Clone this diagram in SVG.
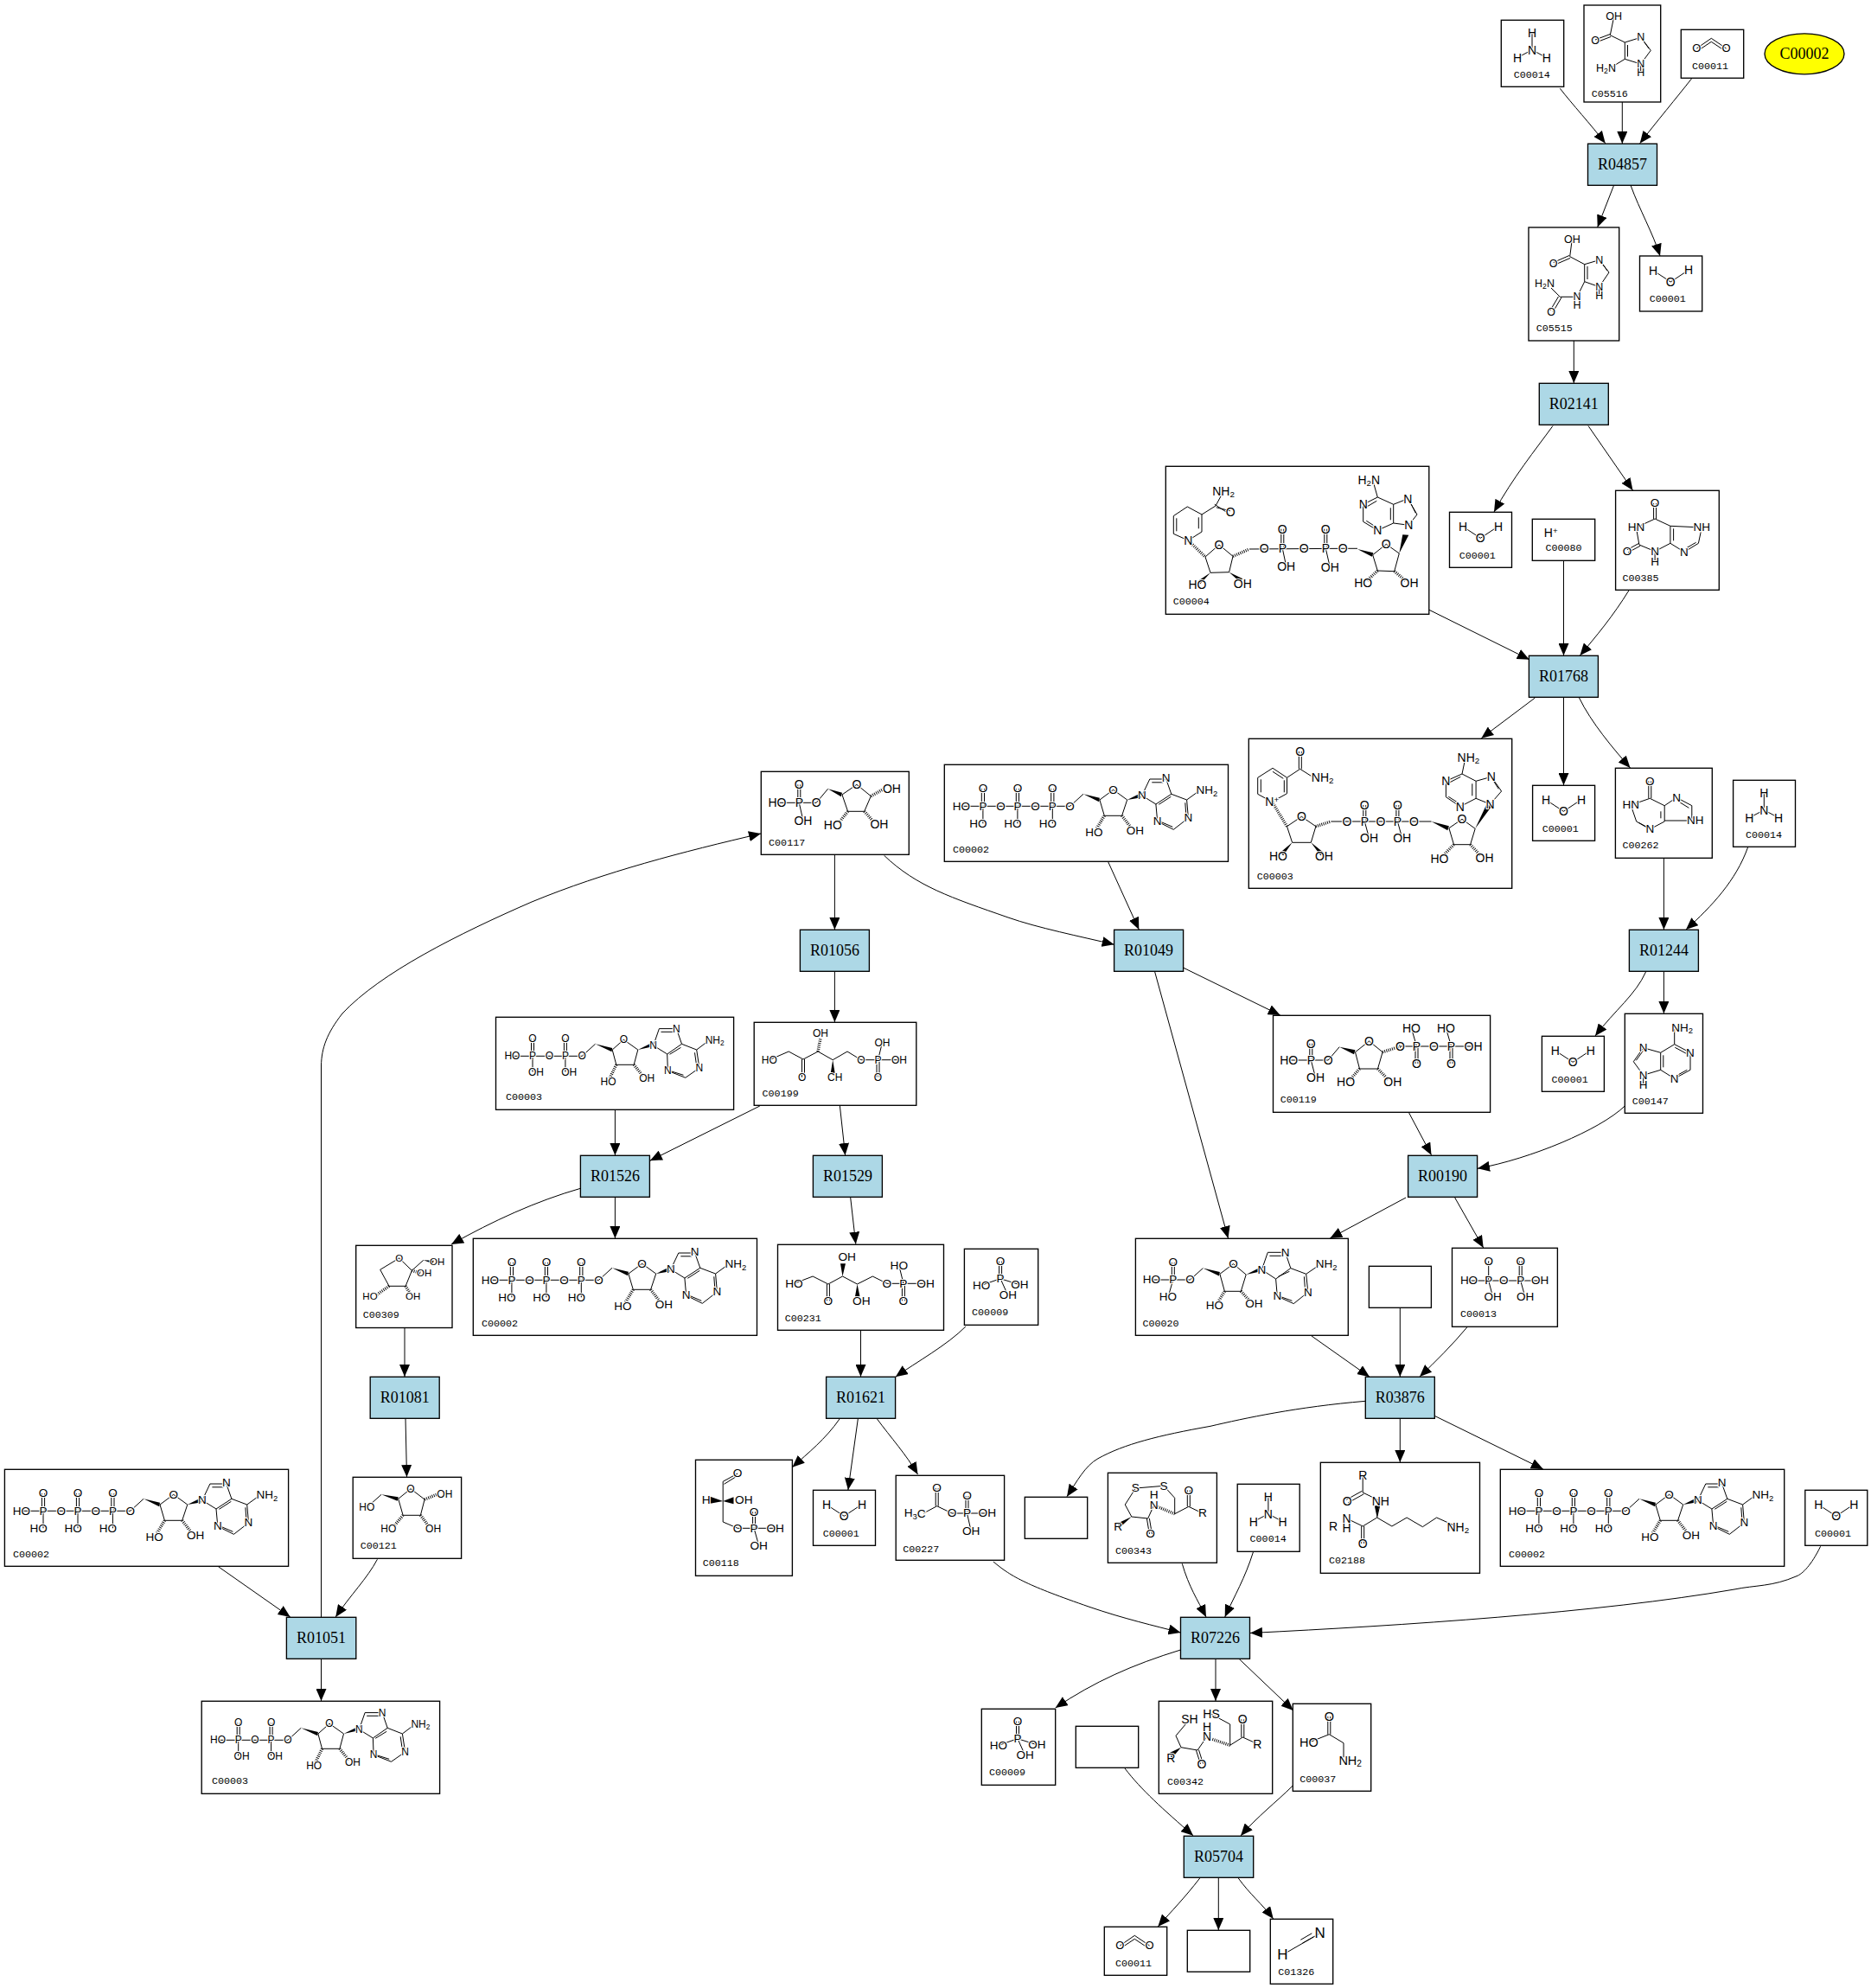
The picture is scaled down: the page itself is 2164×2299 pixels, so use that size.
<svg xmlns="http://www.w3.org/2000/svg" xmlns:xlink="http://www.w3.org/1999/xlink" width="2164" height="2299" viewBox="0 0 2164 2299">
<style>
.bg{fill:#fff}
.e{fill:none;stroke:#000;stroke-width:1;marker-end:url(#ah)}
.n{fill:#fff;stroke:#000;stroke-width:1.35}
.r{fill:#add8e6;stroke:#000;stroke-width:1.35}
.y{fill:#ff0;stroke:#000;stroke-width:1.35}
.t{font-family:"Liberation Serif","Times New Roman",serif;font-size:18px;text-anchor:middle;fill:#000}
.l{font-family:"Liberation Mono","DejaVu Sans Mono",monospace;font-size:11.7px;fill:#000}
.b{fill:none;stroke:#000;stroke-width:1}
.h{fill:none;stroke:#000;stroke-width:3.5;stroke-dasharray:.9 1.4}
.w{fill:#000;stroke:none}
.m text{font-family:"Liberation Sans",Arial,sans-serif;text-anchor:middle;dominant-baseline:central;paint-order:stroke;stroke:#fff;stroke-width:2.2px;fill:#000}
.s{font-size:70%}
</style>
<defs>
<marker id="ah" markerUnits="userSpaceOnUse" markerWidth="14" markerHeight="12" refX="14" refY="6" orient="auto"><path d="M0 0L14 6L0 12Z"/></marker>
<g id="water"><path class="b" d="M15.5 16.7L35.8 30L56.5 16.3"/></g>
<g id="ammonia"><path class="b" d="M35.7 15V34.4L18.7 43.4M35.7 34.4L52.4 43.4"/></g>
<g id="co2"><path class="b" d="M18 21.7L35 10L52.3 21.7M20 24L35 14L50 24"/></g>
<g id="pi"><path class="b" d="M40.2 14.4V34.4M43.2 14.4V34.4M19.7 42L41.7 34.4L64 41.4M41.7 34.4L50.4 53.7"/></g>
<g id="atp"><path class="b" d="M19.6 48H145.3M43 27.7V48M46.2 27.7V48M83 27.7V48M86.2 27.7V48M123.4 27.7V48M126.6 27.7V48M44.6 48V68M84.6 48V68M125 48V68M145.3 48L160.7 34M179.6 40.7L195.3 29L211.4 40.7L205.3 59H185ZM228.5 35.7L237.5 16.7H256.4L262.5 34L244.6 45.7ZM240 20.5H253M244.6 45.7L246.4 65.7L265 75L282.1 61.7L280.3 40.7L262.5 34M280.3 40.7L295 30M250 66L264 72M278.5 44L279.5 58M248 46L262 37"/><path class="w" d="M160.7 34L179.6 38.5L178.8 43ZM211.4 40.7L226 33.5L228 38Z"/><path class="h" d="M185 59L176 74M205.3 59L216 73"/></g>
<g id="adp"><path class="b" d="M18.9 45H99.7M41 25V45M44 25V45M78.9 25V45M81.9 25V45M42.5 45V63.3M80.4 45V63.3M99.7 45L115 31M134.7 37.7L147.8 26L164.3 37.7L159.7 55H139.3ZM182.2 32.7L188.9 13.3H208.9L215 31L198.2 42.7ZM191 17H206M198.2 42.7L198.9 62L219.3 70L235.4 58.7L232.2 37.7L215 31M232.2 37.7L245 28M201 62L217 67M230 41L232 55M201 43L214 35"/><path class="w" d="M115 31L134.7 35.6L134 40ZM164.3 37.7L180 30L181.5 34Z"/><path class="h" d="M139.3 55L132 70M159.7 55L170 68"/></g>
</defs>
<rect class="bg" width="2164" height="2299"/>
<g id="connectors">
<path class="e" d="M1804.3 102.3C1818 120 1840 144 1856.7 165.7"/>
<path class="e" d="M1876.3 118V166"/>
<path class="e" d="M1956.7 90.7C1940 112 1915 142 1896.7 165.7"/>
<path class="e" d="M1866.3 215L1847.7 262.7"/>
<path class="e" d="M1886.3 215C1896 242 1912 270 1920 296"/>
<path class="e" d="M1820.3 394V443"/>
<path class="e" d="M1796 492.5C1776 520 1750 552 1728 592"/>
<path class="e" d="M1837 492.5L1888.5 567"/>
<path class="e" d="M1653 705.3L1768.8 762.7"/>
<path class="e" d="M1808.5 648.3V758"/>
<path class="e" d="M1884 682.7C1866 712 1846 736 1827.4 758"/>
<path class="e" d="M1775.4 807L1713.3 853.7"/>
<path class="e" d="M1808.5 806.3V908"/>
<path class="e" d="M1826.5 807C1840 835 1866 866 1885.5 888"/>
<path class="e" d="M1924.4 992.3V1075"/>
<path class="e" d="M2021.5 980C2008 1018 1980 1048 1950 1075"/>
<path class="e" d="M1903.5 1124C1892 1150 1868 1168 1845 1198"/>
<path class="e" d="M1924.4 1123.3V1172"/>
<path class="e" d="M1879.3 1279C1850 1307 1770 1340 1709 1351.3"/>
<path class="e" d="M1682.7 1385L1715.7 1443"/>
<path class="e" d="M1629.5 1286.7L1655.5 1335.7"/>
<path class="e" d="M1369 1119.3L1480.7 1174"/>
<path class="e" d="M1335.7 1124L1420.5 1432"/>
<path class="e" d="M1281.7 996.7L1317.3 1075"/>
<path class="e" d="M1022.6 989.3C1060 1025 1100 1038 1166 1061C1200 1073 1250 1083 1288.6 1092.3"/>
<path class="e" d="M965.4 988.3V1075"/>
<path class="e" d="M965.4 1123.3V1182"/>
<path class="e" d="M878.8 1279L751.8 1342.3"/>
<path class="e" d="M971.4 1279L977.6 1336"/>
<path class="e" d="M711.4 1283.3V1336"/>
<path class="e" d="M671.4 1374.3C620 1389 570 1412 522 1439"/>
<path class="e" d="M711.4 1384.3V1432"/>
<path class="e" d="M983.7 1385L989.8 1438.7"/>
<path class="e" d="M995.5 1538.3V1592"/>
<path class="e" d="M1116.9 1534C1095 1556 1060 1575 1035.8 1592.3"/>
<path class="e" d="M971 1641C955 1664 935 1680 916.4 1696.7"/>
<path class="e" d="M992.3 1641L980.9 1723"/>
<path class="e" d="M1014.5 1641C1030 1662 1048 1682 1061.5 1705"/>
<path class="e" d="M1149 1806C1170 1824 1190 1834 1260 1858.3C1300 1872 1335 1880 1365.5 1888"/>
<path class="e" d="M1367.3 1808.3C1375 1835 1385 1850 1395 1870"/>
<path class="e" d="M1449.4 1795C1440 1825 1428 1845 1416.7 1870"/>
<path class="e" d="M2105.6 1788.3C2095 1810 2085 1820 2078 1822.7C2050 1835 2030 1833 2006 1838C1850 1865 1620 1880 1446 1888.5"/>
<path class="e" d="M1579.3 1620.3C1500 1627 1440 1640 1400 1649.3C1340 1660 1300 1670 1270 1686.7C1255 1695 1245 1714 1234 1730.7"/>
<path class="e" d="M1619.3 1640.3V1691"/>
<path class="e" d="M1659.2 1637.3L1784.8 1699"/>
<path class="e" d="M1517 1545L1584 1592.3"/>
<path class="e" d="M1619.3 1512.3V1592"/>
<path class="e" d="M1696.7 1535C1680 1555 1660 1575 1642 1592"/>
<path class="e" d="M1626 1385L1538.3 1432"/>
<path class="e" d="M436.4 1803.3C425 1825 405 1845 388.2 1870"/>
<path class="e" d="M252.5 1811.7L335.7 1870"/>
<path class="e" d="M371.5 1870V1232C372 1212 378 1195 396 1172C440 1125 530 1080 615 1043C700 1008 790 985 880 964"/>
<path class="e" d="M469 1640.3L470.5 1708"/>
<path class="e" d="M468 1535.5V1592"/>
<path class="e" d="M371.5 1918.3V1967"/>
<path class="e" d="M1365.5 1908C1310 1925 1265 1945 1220.7 1975"/>
<path class="e" d="M1406 1918.3V1967"/>
<path class="e" d="M1433 1918.3L1495.7 1978"/>
<path class="e" d="M1301 2045C1320 2070 1345 2092 1380 2122.7"/>
<path class="e" d="M1495.3 2065C1475 2085 1455 2100 1435 2123"/>
<path class="e" d="M1387.7 2172C1370 2195 1355 2210 1339.3 2228"/>
<path class="e" d="M1409.3 2171.3V2232"/>
<path class="e" d="M1432.3 2172C1445 2190 1460 2202 1472.7 2219"/>
</g>

<g id="R04857"><rect class="r" x="1836.5" y="166.3" width="80" height="48"/><text class="t" x="1876.5" y="195.8">R04857</text></g>
<g id="R02141"><rect class="r" x="1780.3" y="443.3" width="80" height="48"/><text class="t" x="1820.3" y="472.8">R02141</text></g>
<g id="R01768"><rect class="r" x="1768.4" y="758.3" width="80" height="48"/><text class="t" x="1808.4" y="787.8">R01768</text></g>
<g id="R01244"><rect class="r" x="1884.4" y="1075.3" width="80" height="48"/><text class="t" x="1924.4" y="1104.8">R01244</text></g>
<g id="R01056"><rect class="r" x="925.4" y="1075.3" width="80" height="48"/><text class="t" x="965.4" y="1104.8">R01056</text></g>
<g id="R01049"><rect class="r" x="1288.6" y="1075.3" width="80" height="48"/><text class="t" x="1328.6" y="1104.8">R01049</text></g>
<g id="R00190"><rect class="r" x="1628.6" y="1336.3" width="80" height="48"/><text class="t" x="1668.6" y="1365.8">R00190</text></g>
<g id="R01526"><rect class="r" x="671.4" y="1336.3" width="80" height="48"/><text class="t" x="711.4" y="1365.8">R01526</text></g>
<g id="R01529"><rect class="r" x="940.4" y="1336.3" width="80" height="48"/><text class="t" x="980.4" y="1365.8">R01529</text></g>
<g id="R01621"><rect class="r" x="955.6" y="1592.3" width="80" height="48"/><text class="t" x="995.6" y="1621.8">R01621</text></g>
<g id="R01081"><rect class="r" x="428.2" y="1592.3" width="80" height="48"/><text class="t" x="468.2" y="1621.8">R01081</text></g>
<g id="R03876"><rect class="r" x="1579.3" y="1592.3" width="80" height="48"/><text class="t" x="1619.3" y="1621.8">R03876</text></g>
<g id="R01051"><rect class="r" x="331.4" y="1870.3" width="80.4" height="48"/><text class="t" x="371.6" y="1899.8">R01051</text></g>
<g id="R07226"><rect class="r" x="1365.5" y="1870.3" width="80" height="48"/><text class="t" x="1405.5" y="1899.8">R07226</text></g>
<g id="R05704"><rect class="r" x="1369.3" y="2123.3" width="80.4" height="48"/><text class="t" x="1409.5" y="2152.8">R05704</text></g>

<g id="C00002-free"><ellipse class="y" cx="2087" cy="62.3" rx="46" ry="23.5"/><text class="t" x="2087" y="68.3">C00002</text></g>

<g id="C00014-a" transform="translate(1736.3,23.3)"><rect class="n" width="72.4" height="77"/><use href="#ammonia"/><g class="m" font-size="14"><text x="35.7" y="15">H</text><text x="35.7" y="34.4">N</text><text x="18.7" y="43.4">H</text><text x="52.4" y="43.4">H</text></g><text class="l" x="14.4" y="66.7">C00014</text></g>

<g id="C05516" transform="translate(1832,6)"><rect class="n" width="88.7" height="112"/><path class="b" d="M34.7 13.3L30.3 34.7L47.3 43L65.7 37.3L77.3 52.3L65.7 68L47.3 62.3V43M50.5 46V59.5M68 40L75 50M30.3 33.5L13 40M31 36.5L14 43M47.3 62.3L33 71M65.7 68V78.3"/><g class="m" font-size="12.5"><text x="34.7" y="13.3">OH</text><text x="13" y="41.3">O</text><text x="65.7" y="37.3">N</text><text x="65.7" y="68">N</text><text x="65.7" y="78.3">H</text><text x="25.5" y="73.3">H<tspan class="s" dy="3">2</tspan><tspan dy="-3">N</tspan></text></g><text class="l" x="8.7" y="106">C05516</text></g>

<g id="C00011-a" transform="translate(1944.3,34.3)"><rect class="n" width="72.4" height="56"/><use href="#co2"/><g class="m" font-size="13"><text x="18" y="21.7">O</text><text x="52.3" y="21.7">O</text></g><text class="l" x="12.7" y="45.7">C00011</text></g>

<g id="C05515" transform="translate(1768,263)"><rect class="n" width="104.7" height="131"/><path class="b" d="M50.3 13.7L47.7 33.7L64.7 42.7L81.7 37.7L93 52L81.7 68.7L64.7 62.7V42.7M68 45V60M84 40L91 50M47 32.5L28.7 40.5M48 35.5L29.5 43.5M81.7 68.7V78.7M64.7 62.7L56 80.3H36.3L26 70M34.5 80L25 96M38 81L28 98"/><g class="m" font-size="12.5"><text x="50.3" y="13.7">OH</text><text x="28.7" y="42">O</text><text x="81.7" y="37.7">N</text><text x="81.7" y="68.7">N</text><text x="81.7" y="78.7">H</text><text x="18.5" y="65.3">H<tspan class="s" dy="3">2</tspan><tspan dy="-3">N</tspan></text><text x="26" y="97.7">O</text><text x="56" y="80.3">N</text><text x="56" y="90">H</text></g><text class="l" x="8.7" y="119.7">C05515</text></g>

<g id="C00001-a" transform="translate(1896.5,296)"><rect class="n" width="72.2" height="64"/><use href="#water"/><g class="m" font-size="14"><text x="15.5" y="16.7">H</text><text x="35.8" y="30">O</text><text x="56.5" y="16.3">H</text></g><text class="l" x="11.2" y="53.3">C00001</text></g>

<g id="C00004" transform="translate(1348.3,539.3)"><rect class="n" width="304.5" height="171"/><path class="b" d="M66.7 29L57.7 45.7L41.7 55.7L25 46.7L9 57.3V78L26 85.7L41.7 75.7V55.7M38 59V72M12.5 60V75M56.5 44L73.5 55M58.5 47.5L74.5 51.5M45.7 104.7L61.7 90.7L77.7 104L73.3 122.4L51.7 123ZM96.7 95.7L205 95M133.5 72.4V95M136.5 72.4V95M183.5 72.4V95M186.5 72.4V95M135 95L139.4 115.7M185 95L190 116.7M239.4 102.4L255 90L270 100.7L264.4 121.4L245 120.7ZM205 95H221.7M281 68L263.4 65.7V44L280 37.4L290.7 55.7ZM263.4 65.7L245 74L228.4 64V44L245 35.7L263.4 44M245 35.7L240 18M260 48V62M232 47L244 40M232 63L243 70M283 42L289 54"/><path class="w" d="M221.7 95.7L240 100L238.5 104.5ZM270 100.7L274 79L281 79.5ZM51.7 123L36.7 133L40 136ZM73.3 122.4L85 133L89 130Z"/><path class="h" d="M26 85.7L45.7 104.7M77.7 104L96.7 95.7M245 120.7L233 132M264.4 121.4L277 132"/><g class="m" font-size="14"><text x="66.7" y="29">NH<tspan class="s" dy="3">2</tspan></text><text x="75" y="53">O</text><text x="26" y="85.7">N</text><text x="61.7" y="90.7">O</text><text x="36.7" y="136.7">HO</text><text x="89" y="135.7">OH</text><text x="114" y="95">O</text><text x="135" y="95">P</text><text x="135" y="72.4">O</text><text x="139.4" y="115.7">OH</text><text x="160" y="95">O</text><text x="185" y="95">P</text><text x="185" y="72.4">O</text><text x="190" y="116.7">OH</text><text x="205" y="95">O</text><text x="255" y="90">O</text><text x="228.4" y="135">HO</text><text x="281.7" y="135">OH</text><text x="281" y="68">N</text><text x="280" y="37.4">N</text><text x="245" y="74">N</text><text x="228.4" y="44">N</text><text x="235" y="15.7">H<tspan class="s" dy="3">2</tspan><tspan dy="-3">N</tspan></text></g><text class="l" x="8.4" y="159.7">C00004</text></g>

<g id="C00001-b" transform="translate(1676.5,592.3)"><rect class="n" width="72" height="64"/><use href="#water"/><g class="m" font-size="14"><text x="15.5" y="16.7">H</text><text x="35.8" y="30">O</text><text x="56.5" y="16.3">H</text></g><text class="l" x="11.2" y="53.3">C00001</text></g>

<g id="C00080" transform="translate(1772.3,600.3)"><rect class="n" width="72.4" height="48"/><g class="m" font-size="14"><text x="21.5" y="15.7">H<tspan class="s" dy="-3">+</tspan></text></g><text class="l" x="15.2" y="37">C00080</text></g>

<g id="C00385" transform="translate(1868.6,567.3)"><rect class="n" width="119.7" height="115"/><path class="b" d="M44 14.7V32.7M47 14.7V32.7M45.5 32.7L23.8 42.7L27.3 62.7L45.5 70.3L63.3 61V41L45.5 32.7M63.3 41L99.7 42.7L95.8 61L79.4 71L63.3 61M67 44V58M45.5 70.3V82M27 61L13.4 68.5M28.5 64L14.5 71.5M93 60L81 67"/><g class="m" font-size="13.5"><text x="45.5" y="14.7">O</text><text x="23.8" y="42.7">HN</text><text x="13.4" y="70.3">O</text><text x="45.5" y="70.3">N</text><text x="45.5" y="82">H</text><text x="99.7" y="42.7">NH</text><text x="79.4" y="71">N</text></g><text class="l" x="7.8" y="104.4">C00385</text></g>

<g id="C00003-nad" transform="translate(1444.3,854.3)"><rect class="n" width="304.4" height="173"/><path class="b" d="M58 14.7V35M61 14.7V35M59.4 35L72 43M59.4 35L44.2 45M27.7 34L44.2 45V63.4L26.9 73L10.4 64V45ZM27.7 38L40 46M14 47V62M41 48V62M44.2 101.4L61.1 90L77.6 101.4L72 120H50.3ZM95 95.7H211.2M132.5 76.7V95.7M135.5 76.7V95.7M170.6 76.7V95.7M173.6 76.7V95.7M134 95.7L139.2 114.7M172.1 95.7L177.4 114.7M231.6 103.4L246.7 93L261.9 104L256.3 122.4H237.2ZM279.3 75.7L262.8 69V49L280.6 44L292.3 60.7ZM262.8 69L244.6 78.4L228.1 67.4V49L246.7 40.7L262.8 49M246.7 40.7L250 25M258.5 52V66M231.5 51L245 44M231 67L242 74M282 47L289 58"/><path class="w" d="M211.2 95.7L231.6 101L230 106ZM261.9 104L276 74L281 78ZM50.3 120L36 132L40 135ZM72 120L83 135L87 132Z"/><path class="h" d="M26.9 73L44.2 101.4M77.6 101.4L95 95.7M237.2 122.4L225 135M256.3 122.4L268 135"/><g class="m" font-size="14"><text x="59.4" y="14.7">O</text><text x="85.4" y="44.7">NH<tspan class="s" dy="3">2</tspan></text><text x="26.9" y="73">N<tspan class="s" dy="-3">+</tspan></text><text x="61.1" y="90">O</text><text x="34.2" y="135.7">HO</text><text x="87.1" y="135.7">OH</text><text x="113.6" y="95.7">O</text><text x="134" y="95.7">P</text><text x="134" y="76.7">O</text><text x="139.2" y="114.7">OH</text><text x="152.6" y="95.7">O</text><text x="172.1" y="95.7">P</text><text x="172.1" y="76.7">O</text><text x="177.4" y="114.7">OH</text><text x="191.2" y="95.7">O</text><text x="246.7" y="93">O</text><text x="220.7" y="139">HO</text><text x="272.8" y="137.7">OH</text><text x="279.3" y="75.7">N</text><text x="280.6" y="44">N</text><text x="244.6" y="78.4">N</text><text x="228.1" y="49">N</text><text x="254.1" y="21.4">NH<tspan class="s" dy="3">2</tspan></text></g><text class="l" x="9.5" y="162.4">C00003</text></g>

<g id="C00001-c" transform="translate(1772.6,908.3)"><rect class="n" width="72" height="64"/><use href="#water"/><g class="m" font-size="14"><text x="15.5" y="16.7">H</text><text x="35.8" y="30">O</text><text x="56.5" y="16.3">H</text></g><text class="l" x="11.2" y="53.3">C00001</text></g>

<g id="C00262" transform="translate(1868.4,888.3)"><rect class="n" width="111.9" height="104"/><path class="b" d="M38.4 15V35M41.4 15V35M39.9 35L17.8 42.7L24.3 61.7L39.9 70.7L56.8 61.7V43.4L39.9 35M56.8 43.4L70.7 34L88.4 43.4V60.7H56.8M52.5 50V58M72 38L85 46M27 63L38 69"/><g class="m" font-size="13.5"><text x="39.9" y="15">O</text><text x="17.8" y="42.7">HN</text><text x="70.7" y="34">N</text><text x="92.3" y="60.7">NH</text><text x="39.9" y="70.7">N</text></g><text class="l" x="8" y="93">C00262</text></g>

<g id="C00014-b" transform="translate(2004.6,902.3)"><rect class="n" width="71.9" height="77"/><use href="#ammonia"/><g class="m" font-size="14"><text x="35.7" y="15">H</text><text x="35.7" y="34.4">N</text><text x="18.7" y="43.4">H</text><text x="52.4" y="43.4">H</text></g><text class="l" x="14.4" y="66.7">C00014</text></g>

<g id="C00001-d" transform="translate(1783.4,1198.3)"><rect class="n" width="72" height="64"/><use href="#water"/><g class="m" font-size="14"><text x="15.5" y="16.7">H</text><text x="35.8" y="30">O</text><text x="56.5" y="16.3">H</text></g><text class="l" x="11.2" y="53.3">C00001</text></g>

<g id="C00147" transform="translate(1879.3,1172.3)"><rect class="n" width="90.2" height="115"/><path class="b" d="M57.4 16V35.4L75.7 45V65L57.4 75L41.4 65V45L57.4 35.4M41.4 45L21.4 39.4L10 55.4L21.4 71L41.4 65M44.5 48V62M58 39L71 46M59 72L72 65M21 43L13 54M21.4 71V82.7"/><g class="m" font-size="13.5"><text x="66.4" y="16">NH<tspan class="s" dy="3">2</tspan></text><text x="75.7" y="45">N</text><text x="57.4" y="75">N</text><text x="21.4" y="39.4">N</text><text x="21.4" y="71">N</text><text x="21.4" y="82.7">H</text></g><text class="l" x="8.4" y="104.4">C00147</text></g>

<g id="C00119" transform="translate(1472.5,1174.3)"><rect class="n" width="251.1" height="112"/><path class="b" d="M42.3 32.4V51.7M45.3 32.4V51.7M18.2 51.7H63.7L76.7 36.4M43.8 51.7L49 71.7M95 42.4L111 29.7L126.6 42.4L121 61.7H100ZM147 35.7H231.5M164.5 35.7V55.7M167.5 35.7V55.7M204.5 35.7V55.7M207.5 35.7V55.7M166 35.7L160 15M206 35.7L200 15"/><path class="w" d="M76.7 36.4L95 40L93.5 45Z"/><path class="h" d="M126.6 42.4L147 35.7M100 61.7L89 74M121 61.7L133 74"/><g class="m" font-size="14"><text x="43.8" y="32.4">O</text><text x="43.8" y="51.7">P</text><text x="18.2" y="51.7">HO</text><text x="49" y="71.7">OH</text><text x="63.7" y="51.7">O</text><text x="111" y="29.7">O</text><text x="84.1" y="77">HO</text><text x="138.3" y="77">OH</text><text x="147" y="35.7">O</text><text x="166" y="35.7">P</text><text x="160" y="15">HO</text><text x="166" y="55.7">O</text><text x="186" y="35.7">O</text><text x="206" y="35.7">P</text><text x="200" y="15">HO</text><text x="206" y="55.7">O</text><text x="231.5" y="35.7">OH</text></g><text class="l" x="8.2" y="100.4">C00119</text></g>

<g id="C00117" transform="translate(880.3,892.3)"><rect class="n" width="171" height="96"/><path class="b" d="M42.5 15V36M45.5 15V36M18.7 36H63.9L77.3 20M44 36L48.6 56.7M93.7 26.7L110.6 15L127 28.4L119.4 46H100.3Z"/><path class="w" d="M77.3 20L93.7 24.5L92.5 29Z"/><path class="h" d="M100.3 46L90 59M119.4 46L130 58M127 28.4L142 20"/><g class="m" font-size="14"><text x="44" y="15">O</text><text x="44" y="36">P</text><text x="18.7" y="36">HO</text><text x="48.6" y="56.7">OH</text><text x="63.9" y="36">O</text><text x="110.6" y="15">O</text><text x="83" y="62">HO</text><text x="136.6" y="61">OH</text><text x="151.1" y="19.4">OH</text></g><text class="l" x="8.8" y="85.4">C00117</text></g>

<g id="C00002-a" transform="translate(1092.3,884.3)"><rect class="n" width="328.2" height="112"/><use href="#atp"/><g class="m" font-size="13.5"><text x="19.6" y="48">HO</text><text x="44.6" y="48">P</text><text x="44.6" y="27.7">O</text><text x="39.2" y="68">HO</text><text x="65.3" y="48">O</text><text x="84.6" y="48">P</text><text x="84.6" y="27.7">O</text><text x="79.2" y="68">HO</text><text x="105.3" y="48">O</text><text x="125" y="48">P</text><text x="125" y="27.7">O</text><text x="119.6" y="68">HO</text><text x="145.3" y="48">O</text><text x="195.3" y="29">O</text><text x="173.2" y="78">HO</text><text x="220.7" y="76.3">OH</text><text x="228.5" y="35.7">N</text><text x="256.4" y="15.7">N</text><text x="246.4" y="65.7">N</text><text x="282.1" y="61.7">N</text><text x="303.5" y="29.7">NH<tspan class="s" dy="3">2</tspan></text></g><text class="l" x="9.6" y="101.4">C00002</text></g>

<g id="C00199" transform="translate(872.2,1182.3)"><rect class="n" width="187.6" height="96"/><path class="b" d="M17.6 43.4L40 33.7L56.8 42.7L73.9 33.7L91 43.4L107.8 33.7L123.7 43.4H167.8M55.3 42.7V63.4M58.3 42.7V63.4M143.3 43.4L148.2 23.4M141.8 43.4V63.4M144.8 43.4V63.4"/><path class="w" d="M91 43.4L88.5 59H93.5Z"/><path class="h" d="M73.9 33.7L76.8 18"/><g class="m" font-size="12"><text x="17.6" y="43.4">HO</text><text x="55.5" y="63.4">O</text><text x="76.8" y="13">OH</text><text x="93.5" y="63.4">CH</text><text x="123.7" y="43.4">O</text><text x="143.3" y="43.4">P</text><text x="148.2" y="23.4">OH</text><text x="167.8" y="43.4">OH</text><text x="143.3" y="63.4">O</text></g><text class="l" x="9.4" y="85.4">C00199</text></g>

<g id="C00003-adp-a" transform="translate(573.5,1176.3)"><rect class="n" width="275.1" height="107"/><use href="#adp"/><g class="m" font-size="12"><text x="18.9" y="45">HO</text><text x="42.5" y="45">P</text><text x="42.5" y="25">O</text><text x="46.4" y="63.3">OH</text><text x="61.8" y="45">O</text><text x="80.4" y="45">P</text><text x="80.4" y="25">O</text><text x="84.7" y="63.3">OH</text><text x="99.7" y="45">O</text><text x="147.8" y="26">O</text><text x="130" y="74.3">HO</text><text x="174.7" y="71">OH</text><text x="182.2" y="32.7">N</text><text x="208.9" y="13.3">N</text><text x="198.9" y="62">N</text><text x="235.4" y="58.7">N</text><text x="253.2" y="26.7">NH<tspan class="s" dy="3">2</tspan></text></g><text class="l" x="11.5" y="96">C00003</text></g>

<g id="C00002-b" transform="translate(547.3,1432.3)"><rect class="n" width="328.2" height="112"/><use href="#atp"/><g class="m" font-size="13.5"><text x="19.6" y="48">HO</text><text x="44.6" y="48">P</text><text x="44.6" y="27.7">O</text><text x="39.2" y="68">HO</text><text x="65.3" y="48">O</text><text x="84.6" y="48">P</text><text x="84.6" y="27.7">O</text><text x="79.2" y="68">HO</text><text x="105.3" y="48">O</text><text x="125" y="48">P</text><text x="125" y="27.7">O</text><text x="119.6" y="68">HO</text><text x="145.3" y="48">O</text><text x="195.3" y="29">O</text><text x="173.2" y="78">HO</text><text x="220.7" y="76.3">OH</text><text x="228.5" y="35.7">N</text><text x="256.4" y="15.7">N</text><text x="246.4" y="65.7">N</text><text x="282.1" y="61.7">N</text><text x="303.5" y="29.7">NH<tspan class="s" dy="3">2</tspan></text></g><text class="l" x="9.6" y="101.4">C00002</text></g>

<g id="C00309" transform="translate(411.7,1440.3)"><rect class="n" width="111.3" height="95.2"/><path class="b" d="M28 28L50 14.7L64.7 29L57.4 47H38.3ZM64.7 29L78 17"/><path class="w" d="M78 17L90 17.5L89 21Z"/><path class="h" d="M64.7 29L75 32M38.3 47L24 57M57.4 47L63 56"/><g class="m" font-size="11.5"><text x="50" y="14.7">O</text><text x="94" y="19">OH</text><text x="79" y="32">OH</text><text x="16.3" y="59">HO</text><text x="66" y="59">OH</text></g><text class="l" x="8" y="84">C00309</text></g>

<g id="C00231" transform="translate(899.5,1439.3)"><rect class="n" width="192" height="99"/><path class="b" d="M18.9 45L40.6 36.7L58.4 45.7L75 36.7L92 45.7L109.8 36.7L126.4 45H171.1M56.9 45.7V65M59.9 45.7V65M145.4 45L140.3 24M143.9 45V65M146.9 45V65"/><path class="w" d="M75 36.7L72.5 22H78.5ZM92 45.7L89.5 60H95Z"/><g class="m" font-size="13.7"><text x="18.9" y="45">HO</text><text x="58.4" y="65">O</text><text x="80.2" y="14.7">OH</text><text x="96.8" y="65">OH</text><text x="126.4" y="45">O</text><text x="145.4" y="45">P</text><text x="140.3" y="24">HO</text><text x="171.1" y="45">OH</text><text x="145.4" y="65">O</text></g><text class="l" x="8.2" y="89">C00231</text></g>

<g id="C00009-a" transform="translate(1115.4,1444.3)"><rect class="n" width="85.3" height="88"/><use href="#pi"/><g class="m" font-size="13.5"><text x="41.7" y="14.4">O</text><text x="41.7" y="34.4">P</text><text x="19.7" y="42">HO</text><text x="64" y="41.4">OH</text><text x="50.4" y="53.7">OH</text></g><text class="l" x="8.7" y="77">C00009</text></g>

<g id="C00020" transform="translate(1313.4,1432.3)"><rect class="n" width="245.9" height="112"/><path class="b" d="M18.6 47.7H63M41.9 27.7V47.7M44.9 27.7V47.7M43.4 47.7L37.6 67.7M63 47.7L77.9 34.3M97.5 41L113 29.3L127.8 41.7L121.9 61H103ZM146 36L152.9 16H173.2L179.4 34.3L162.2 46.7ZM155 20H171M162.2 46.7L163.9 66.7L182.9 75.3L199.4 62L197.3 41L179.4 34.3M197.3 41L212 31M167 67L181 72M195 44L196 58M165 44L178 38"/><path class="w" d="M77.9 34.3L97.5 38.8L96.5 43.2ZM127.8 41.7L143 34L145 38Z"/><path class="h" d="M103 61L95 74M121.9 61L132 72"/><g class="m" font-size="13.5"><text x="18.6" y="47.7">HO</text><text x="43.4" y="47.7">P</text><text x="43.4" y="27.7">O</text><text x="37.6" y="67.7">HO</text><text x="63" y="47.7">O</text><text x="113" y="29.3">O</text><text x="91.6" y="77.7">HO</text><text x="137.1" y="75.3">OH</text><text x="146" y="36">N</text><text x="173.2" y="16">N</text><text x="163.9" y="66.7">N</text><text x="199.4" y="62">N</text><text x="220.8" y="29.3">NH<tspan class="s" dy="3">2</tspan></text></g><text class="l" x="8" y="101.4">C00020</text></g>

<g id="empty-a"><rect class="n" x="1583.4" y="1464.3" width="72" height="48"/></g>

<g id="C00013" transform="translate(1679.5,1443.3)"><rect class="n" width="121.9" height="91"/><path class="b" d="M42.2 15V37.7M19.5 37.7H101.5M42.2 37.7L47.2 56.7M77.7 15V37.7M80.7 15V37.7M79.2 37.7L84.5 56.7"/><g class="m" font-size="13.5"><text x="42.2" y="15">O</text><text x="42.2" y="37.7">P</text><text x="19.5" y="37.7">HO</text><text x="47.2" y="56.7">OH</text><text x="59.8" y="37.7">O</text><text x="79.2" y="37.7">P</text><text x="79.2" y="15">O</text><text x="101.5" y="37.7">OH</text><text x="84.5" y="56.7">OH</text></g><text class="l" x="9.5" y="80">C00013</text></g>

<g id="C00118" transform="translate(804.5,1688.3)"><rect class="n" width="111.9" height="134"/><path class="b" d="M48.7 15.7L31.7 25V71.7L48.7 79H92.2M33 28L49 18M67.6 79L73.2 99M66.1 60V79M69.1 60V79"/><path class="w" d="M31.7 47.7L17 42.5V50.5ZM31.7 47.7L44 43V51Z"/><g class="m" font-size="13.7"><text x="48.7" y="15.7">O</text><text x="12.3" y="46.7">H</text><text x="55.8" y="46.7">OH</text><text x="48.7" y="79">O</text><text x="67.6" y="79">P</text><text x="67.6" y="60">O</text><text x="92.2" y="79">OH</text><text x="73.2" y="99">OH</text></g><text class="l" x="8.3" y="122.4">C00118</text></g>

<g id="C00001-e" transform="translate(940.5,1723.3)"><rect class="n" width="72" height="64"/><use href="#water"/><g class="m" font-size="14"><text x="15.5" y="16.7">H</text><text x="35.8" y="30">O</text><text x="56.5" y="16.3">H</text></g><text class="l" x="11.2" y="53.3">C00001</text></g>

<g id="C00227" transform="translate(1036.2,1706.3)"><rect class="n" width="125.4" height="98"/><path class="b" d="M32 43.7L47.5 35.4L64.9 43.7H105.6M46 14.7V35.4M49 14.7V35.4M82.3 43.7L87 64.4M80.8 23.7V43.7M83.8 23.7V43.7"/><g class="m" font-size="13.7"><text x="22" y="43.7">H<tspan class="s" dy="3">3</tspan><tspan dy="-3">C</tspan></text><text x="47.5" y="14.7">O</text><text x="64.9" y="43.7">O</text><text x="82.3" y="43.7">P</text><text x="82.3" y="23.7">O</text><text x="105.6" y="43.7">OH</text><text x="87" y="64.4">OH</text></g><text class="l" x="8" y="88.4">C00227</text></g>

<g id="empty-b"><rect class="n" x="1185.3" y="1731.3" width="72.4" height="48"/></g>

<g id="C00343" transform="translate(1281.4,1703.3)"><rect class="n" width="126" height="104"/><path class="b" d="M64.7 15L32 17.7L19.9 36.7L27.4 50.7L46.3 52.7L53.2 37.4M64.7 15L77.3 29V47.4L93.4 39L109.5 46.7M91.9 20V39M94.9 20V39M45 52.7L48 70.7M48 52.7L51 70.7"/><path class="w" d="M27.4 50.7L11 58.5L14 63Z"/><path class="h" d="M53.2 37.4L77.3 47.4"/><g class="m" font-size="13.7"><text x="32" y="17.7">S</text><text x="64.7" y="15">S</text><text x="53.2" y="25.7">H</text><text x="53.2" y="37.4">N</text><text x="11.9" y="62.4">R</text><text x="49.2" y="70.7">O</text><text x="93.4" y="20">O</text><text x="109.5" y="46.7">R</text></g><text class="l" x="8.5" y="93.4">C00343</text></g>

<g id="C00014-c" transform="translate(1431.2,1716.3)"><rect class="n" width="72" height="78"/><use href="#ammonia"/><g class="m" font-size="14"><text x="35.7" y="15">H</text><text x="35.7" y="34.4">N</text><text x="18.7" y="43.4">H</text><text x="52.4" y="43.4">H</text></g><text class="l" x="14.4" y="67">C00014</text></g>

<g id="C02188" transform="translate(1527.3,1691.3)"><rect class="n" width="184.2" height="128"/><path class="b" d="M48.9 14.7V34.7L69.5 44.7L65.4 63.7L48.9 73.7L30.3 64.7M48 33L30 43M50 36.5L32 46.5M65.4 63.7L82.6 73.7L99.8 63.7L118.1 74.4L134.3 63.7L159 74.7M47.4 73.7V93.7M50.4 73.7V93.7"/><path class="w" d="M65.4 63.7L62.5 50H68Z"/><g class="m" font-size="14"><text x="48.9" y="14.7">R</text><text x="31" y="44.7">O</text><text x="69.5" y="44.7">NH</text><text x="14.8" y="73.7">R</text><text x="30.3" y="64.7">N</text><text x="30.3" y="75.4">H</text><text x="48.9" y="93.7">O</text><text x="159" y="74.7">NH<tspan class="s" dy="3">2</tspan></text></g><text class="l" x="9.6" y="117">C02188</text></g>

<g id="C00002-c" transform="translate(1735.3,1699.3)"><rect class="n" width="328.4" height="112"/><use href="#atp"/><g class="m" font-size="13.5"><text x="19.6" y="48">HO</text><text x="44.6" y="48">P</text><text x="44.6" y="27.7">O</text><text x="39.2" y="68">HO</text><text x="65.3" y="48">O</text><text x="84.6" y="48">P</text><text x="84.6" y="27.7">O</text><text x="79.2" y="68">HO</text><text x="105.3" y="48">O</text><text x="125" y="48">P</text><text x="125" y="27.7">O</text><text x="119.6" y="68">HO</text><text x="145.3" y="48">O</text><text x="195.3" y="29">O</text><text x="173.2" y="78">HO</text><text x="220.7" y="76.3">OH</text><text x="228.5" y="35.7">N</text><text x="256.4" y="15.7">N</text><text x="246.4" y="65.7">N</text><text x="282.1" y="61.7">N</text><text x="303.5" y="29.7">NH<tspan class="s" dy="3">2</tspan></text></g><text class="l" x="9.6" y="101.4">C00002</text></g>

<g id="C00001-f" transform="translate(2087.8,1723.3)"><rect class="n" width="72" height="64"/><use href="#water"/><g class="m" font-size="14"><text x="15.5" y="16.7">H</text><text x="35.8" y="30">O</text><text x="56.5" y="16.3">H</text></g><text class="l" x="11.2" y="53.3">C00001</text></g>

<g id="C00002-d" transform="translate(5.4,1699.3)"><rect class="n" width="328.2" height="112"/><use href="#atp"/><g class="m" font-size="13.5"><text x="19.6" y="48">HO</text><text x="44.6" y="48">P</text><text x="44.6" y="27.7">O</text><text x="39.2" y="68">HO</text><text x="65.3" y="48">O</text><text x="84.6" y="48">P</text><text x="84.6" y="27.7">O</text><text x="79.2" y="68">HO</text><text x="105.3" y="48">O</text><text x="125" y="48">P</text><text x="125" y="27.7">O</text><text x="119.6" y="68">HO</text><text x="145.3" y="48">O</text><text x="195.3" y="29">O</text><text x="173.2" y="78">HO</text><text x="220.7" y="76.3">OH</text><text x="228.5" y="35.7">N</text><text x="256.4" y="15.7">N</text><text x="246.4" y="65.7">N</text><text x="282.1" y="61.7">N</text><text x="303.5" y="29.7">NH<tspan class="s" dy="3">2</tspan></text></g><text class="l" x="9.6" y="101.4">C00002</text></g>

<g id="C00121" transform="translate(408.2,1708.3)"><rect class="n" width="125.4" height="94"/><path class="b" d="M16.1 35L32.9 20M52.5 25L66.8 13.4L82.9 25.7L78.2 44H57.9Z"/><path class="w" d="M32.9 20L52.5 23L51.5 27.5Z"/><path class="h" d="M57.9 44L47 57M78.2 44L88 57M82.9 25.7L97 20"/><g class="m" font-size="12"><text x="16.1" y="35">HO</text><text x="66.8" y="13.4">O</text><text x="41.1" y="60">HO</text><text x="92.9" y="60">OH</text><text x="106.1" y="19.4">OH</text></g><text class="l" x="8.6" y="82.4">C00121</text></g>

<g id="C00003-adp-b" transform="translate(233.2,1967.3)"><rect class="n" width="275.4" height="107"/><use href="#adp"/><g class="m" font-size="12"><text x="18.9" y="45">HO</text><text x="42.5" y="45">P</text><text x="42.5" y="25">O</text><text x="46.4" y="63.3">OH</text><text x="61.8" y="45">O</text><text x="80.4" y="45">P</text><text x="80.4" y="25">O</text><text x="84.7" y="63.3">OH</text><text x="99.7" y="45">O</text><text x="147.8" y="26">O</text><text x="130" y="74.3">HO</text><text x="174.7" y="71">OH</text><text x="182.2" y="32.7">N</text><text x="208.9" y="13.3">N</text><text x="198.9" y="62">N</text><text x="235.4" y="58.7">N</text><text x="253.2" y="26.7">NH<tspan class="s" dy="3">2</tspan></text></g><text class="l" x="11.8" y="96">C00003</text></g>

<g id="C00009-b" transform="translate(1135.3,1976.3)"><rect class="n" width="85.4" height="88"/><use href="#pi"/><g class="m" font-size="13.5"><text x="41.7" y="14.4">O</text><text x="41.7" y="34.4">P</text><text x="19.7" y="42">HO</text><text x="64" y="41.4">OH</text><text x="50.4" y="53.7">OH</text></g><text class="l" x="8.7" y="77">C00009</text></g>

<g id="empty-c"><rect class="n" x="1244.3" y="1996.3" width="72.4" height="48"/></g>

<g id="C00342" transform="translate(1340.3,1967.3)"><rect class="n" width="131.4" height="107"/><path class="b" d="M35.7 21L19.7 40L25.7 53.4L44.7 56.7L55.7 41M43.2 57L48.2 72.7M46.2 56.4L51.2 72.2M60.7 15L82.4 26.7V51L97 41.7L114 49.4M95.5 21V41.7M98.5 21V41.7"/><path class="w" d="M25.7 53.4L12 60L15 66Z"/><path class="h" d="M62 44L82.4 51"/><g class="m" font-size="14"><text x="35.7" y="21">SH</text><text x="14" y="66">R</text><text x="49.7" y="72.7">O</text><text x="55.7" y="29.4">H</text><text x="55.7" y="41">N</text><text x="60.7" y="15">HS</text><text x="97" y="21">O</text><text x="114" y="49.4">R</text></g><text class="l" x="9.7" y="96.7">C00342</text></g>

<g id="C00037" transform="translate(1495.3,1970.3)"><rect class="n" width="90.4" height="101"/><path class="b" d="M18.7 44.7L42 35.4L58.7 45.4V62M40.5 14.7V35.4M43.5 14.7V35.4"/><g class="m" font-size="14.5"><text x="42" y="14.7">O</text><text x="18.7" y="44.7">HO</text><text x="66.4" y="65.7">NH<tspan class="s" dy="3">2</tspan></text></g><text class="l" x="8" y="90.4">C00037</text></g>

<g id="C00011-b" transform="translate(1277.3,2228.3)"><rect class="n" width="72.4" height="56"/><use href="#co2"/><g class="m" font-size="13"><text x="18" y="21.7">O</text><text x="52.3" y="21.7">O</text></g><text class="l" x="12.7" y="45.7">C00011</text></g>

<g id="empty-d"><rect class="n" x="1373.3" y="2232.3" width="72.4" height="48"/></g>

<g id="C01326" transform="translate(1469.3,2219.3)"><rect class="n" width="72.4" height="75"/><path class="b" d="M14 41.4L57.4 16.4M35 24L48 16.5M37 28L50 20.5"/><g class="m" font-size="17"><text x="57.4" y="16.4">N</text><text x="14" y="41.4">H</text></g><text class="l" x="9" y="64.7">C01326</text></g>
</svg>
